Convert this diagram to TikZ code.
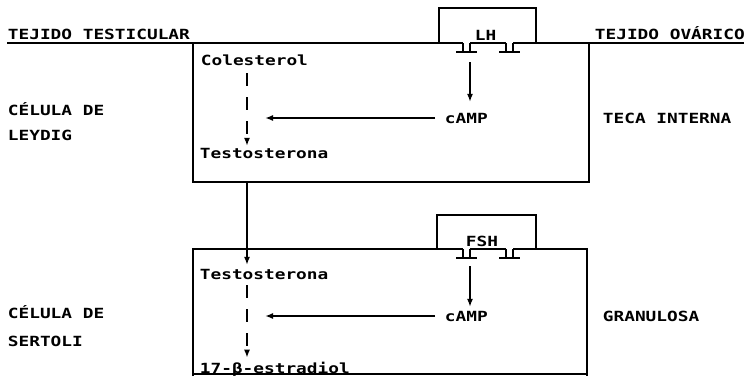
\documentclass[tikz,border=0pt]{standalone}
\usepackage{fontspec}
\setmonofont[FakeStretch=1.27]{DejaVu Sans Mono}
\usetikzlibrary{arrows.meta, positioning, calc}

\tikzset{
  txt/.style={font=\ttfamily\bfseries\fontsize{14}{14}\selectfont, inner sep=0pt, anchor=base west},
  flow/.style={line width=1.8pt, -{Latex[length=8pt,width=6pt]}},
  recep/.pic={
    \fill[white] (-3.5,-1.5) rectangle (3.5,1.5);
    \draw (-3.5,0) -- (-3.5,9) (3.5,0) -- (3.5,9) (-10.5,9) -- (10.5,9);
  }
}

\begin{document}
\begin{tikzpicture}[x=1pt, y=-1pt, line width=1.8pt]
  \useasboundingbox (0,0) rectangle (744,376);

  \draw (7,43) -- (744,43);
  \draw (193,43) -- (193,182) -- (589,182) -- (589,43);
  \draw (439,43) -- (439,8) -- (536,8) -- (536,43);
  \pic at (466.5,43) {recep};
  \pic at (509.5,43) {recep};

  \draw (193,376) -- (193,249) -- (587,249) -- (587,376);
  \draw (193,374) -- (587,374);
  \draw (437,249) -- (437,215) -- (536,215) -- (536,249);
  \pic at (466.5,249) {recep};
  \pic at (509.5,249) {recep};

  \node[txt] (ttes) at (7,39) {TEJIDO TESTICULAR};
  \node[txt] (tova) at (594,39) {TEJIDO OVÁRICO};
  \node[txt] (lh) at (474,40) {LH};
  \node[txt] (fsh) at (465,246) {FSH};
  \node[txt] (col) at (200,65) {Colesterol};
  \node[txt] (tes1) at (199,158) {Testosterona};
  \node[txt] (camp1) at (444,123) {cAMP};
  \node[txt] (cel1) at (7,115) {CÉLULA DE};
  \node[txt] (ley) at (7,140) {LEYDIG};
  \node[txt] (teca) at (602,123) {TECA INTERNA};
  \node[txt] (tes2) at (199,279) {Testosterona};
  \node[txt] (estr) at (199,373) {17-β-estradiol};
  \node[txt] (camp2) at (444,321) {cAMP};
  \node[txt] (cel2) at (7,318) {CÉLULA DE};
  \node[txt] (ser) at (7,346) {SERTOLI};
  \node[txt] (gran) at (602,321) {GRANULOSA};

  \coordinate (ax) at (247,0);
  \coordinate (hx) at (265,0);
  \coordinate (b1) at (193,182);
  \coordinate (r1) at (470,52);
  \coordinate (r2) at (470,257);

  \draw[flow, dash pattern=on 13pt off 11pt, shorten <=7pt, shorten >=1pt] (col.south -| ax) -- (tes1.north -| ax);
  \draw[flow, shorten >=3pt] (ax |- b1) -- (tes2.north -| ax);
  \draw[flow, dash pattern=on 13pt off 11pt, shorten <=5pt, shorten >=3pt] (tes2.south -| ax) -- (estr.north -| ax);
  \draw[flow, shorten <=9pt] (camp1.west) -- (camp1.west -| hx);
  \draw[flow, shorten <=9pt] (camp2.west) -- (camp2.west -| hx);
  \draw[flow, shorten <=10pt, shorten >=10pt] (r1) -- (camp1.north -| r1);
  \draw[flow, shorten <=9pt, shorten >=3pt] (r2) -- (camp2.north -| r2);
\end{tikzpicture}
\end{document}
